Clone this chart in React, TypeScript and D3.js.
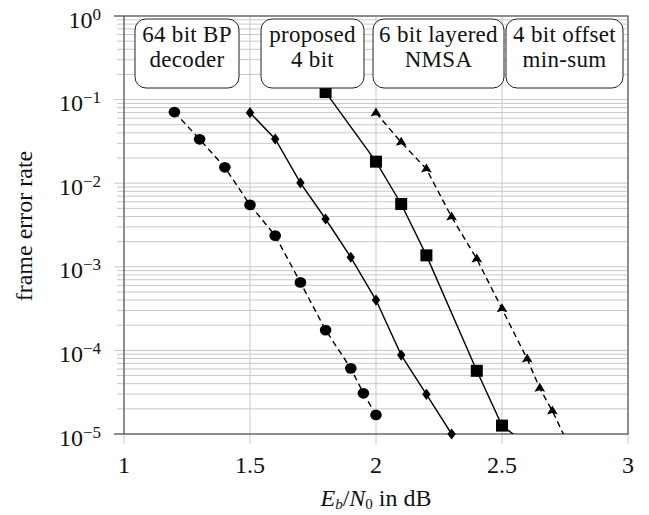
import React from 'react';
import * as d3 from 'd3';

// Eb/N0 (dB) and frame error rate for each decoder
const bpX = [1.2, 1.3, 1.4, 1.5, 1.6, 1.7, 1.8, 1.9, 1.95, 2.0];
const bpY = [0.071, 0.0335, 0.0155, 0.0055, 0.00236, 0.00065, 0.000175, 0.000061, 0.0000307, 0.0000169];

const propX = [1.5, 1.6, 1.7, 1.8, 1.9, 2.0, 2.1, 2.2, 2.3];
const propY = [0.0697, 0.0338, 0.0101, 0.00373, 0.0013, 0.0004, 0.000088, 0.0000298, 0.00001];

const nmsaX = [1.8, 2.0, 2.1, 2.2, 2.4, 2.5, 2.6];
const nmsaY = [0.123, 0.0181, 0.00564, 0.00137, 0.000057, 0.0000126, 0.0000074];

const omsX = [2.0, 2.1, 2.2, 2.3, 2.4, 2.5, 2.6, 2.65, 2.7, 2.75];
const omsY = [0.0693, 0.0308, 0.0148, 0.00394, 0.00124, 0.000314, 0.000079, 0.0000352, 0.0000188, 0.0000091];

const xTicks = [1, 1.5, 2, 2.5, 3];
const xTickLabels = ['1', '1.5', '2', '2.5', '3'];
const yDecades = [0, -1, -2, -3, -4, -5];

const legendLines = [
  ['64 bit BP', 'decoder'],
  ['proposed', '4 bit'],
  ['6 bit layered', 'NMSA'],
  ['4 bit offset', 'min-sum'],
];

const W = 649;
const H = 515;
const left = 124;
const right = 628;
const top = 16;
const bottom = 434;
const font = 'Liberation Serif, serif';

export default function App() {
  const x = d3.scaleLinear().domain([1, 3]).range([left, right]);
  const y = d3.scaleLog().domain([1e-5, 1]).range([bottom, top]);

  const zip = (xs: number[], ys: number[]) => xs.map((v, i) => [v, ys[i]] as [number, number]);
  const line = d3.line<[number, number]>().x(d => x(d[0])).y(d => y(d[1]));

  const bp = zip(bpX, bpY);
  const prop = zip(propX, propY);
  const nmsa = zip(nmsaX, nmsaY);
  const oms = zip(omsX, omsY);
  const inside = (d: [number, number]) => d[1] >= 1e-5 * 0.99;

  const minor: number[] = [];
  for (let e = -5; e < 0; e++) {
    for (let m = 2; m <= 9; m++) minor.push(m * Math.pow(10, e));
  }

  // box layout for the series names
  const boxes = [
    { x0: 135, x1: 239 },
    { x0: 261, x1: 364 },
    { x0: 373, x1: 504 },
    { x0: 506, x1: 623 },
  ];

  const grid = '#c8c8c8';
  const axis = '#555';

  return (
    <svg width={W} height={H} style={{ display: 'block', position: 'absolute', left: 0, top: 0 }}>
      <defs>
        <clipPath id="plot">
          <rect x={left} y={top} width={right - left} height={bottom - top} />
        </clipPath>
      </defs>
      <rect width={W} height={H} fill="#fff" />

      {/* grid */}
      {minor.map((v, i) => (
        <line key={'m' + i} x1={left - 7} x2={right} y1={y(v)} y2={y(v)} stroke={grid} strokeWidth={1} />
      ))}
      {yDecades.map(e => (
        <line key={'d' + e} x1={left - 10} x2={right} y1={y(Math.pow(10, e))} y2={y(Math.pow(10, e))} stroke={grid} strokeWidth={1} />
      ))}
      {xTicks.map(t => (
        <line key={'v' + t} x1={x(t)} x2={x(t)} y1={top} y2={bottom + 10} stroke={grid} strokeWidth={1} />
      ))}

      {/* frame */}
      <rect x={left} y={top} width={right - left} height={bottom - top} fill="none" stroke={axis} strokeWidth={1.2} />
      <line x1={left - 10} x2={left} y1={top} y2={top} stroke={axis} strokeWidth={1.2} />
      <line x1={left - 10} x2={left} y1={bottom} y2={bottom} stroke={axis} strokeWidth={1.2} />

      {/* series */}
      <g clipPath="url(#plot)" fill="none" stroke="#000" strokeWidth={1.4}>
        <path d={line(bp) || ''} strokeDasharray="6,4" />
        <path d={line(prop) || ''} />
        <path d={line(nmsa) || ''} />
        <path d={line(oms) || ''} strokeDasharray="6,4" />
      </g>
      <g fill="#000">
        {bp.map((d, i) => (
          <ellipse key={'c' + i} cx={x(d[0])} cy={y(d[1])} rx={5.8} ry={5.4} />
        ))}
        {prop.map((d, i) => (
          <path key={'p' + i} transform={`translate(${x(d[0])},${y(d[1])})`} d="M0,-5.6L4.2,0L0,5.6L-4.2,0Z" />
        ))}
        {nmsa.filter(inside).map((d, i) => (
          <rect key={'s' + i} x={x(d[0]) - 6} y={y(d[1]) - 6} width={12} height={12} />
        ))}
        {oms.filter(inside).map((d, i) => (
          <path key={'t' + i} transform={`translate(${x(d[0])},${y(d[1])})`} d="M0,-5.5L5.4,3.5L0,2L-5.4,3.5Z" />
        ))}
      </g>

      {/* legend boxes */}
      {boxes.map((b, i) => (
        <g key={'b' + i}>
          <rect x={b.x0} y={19} width={b.x1 - b.x0} height={69} rx={11} ry={11} fill="#fff" stroke="#222" strokeWidth={1} />
          <text x={(b.x0 + b.x1) / 2} y={42} textAnchor="middle" fontFamily={font} fontSize={23} letterSpacing={0.3} fill="#111">
            {legendLines[i][0]}
          </text>
          <text x={(b.x0 + b.x1) / 2} y={67} textAnchor="middle" fontFamily={font} fontSize={23} letterSpacing={0.3} fill="#111">
            {legendLines[i][1]}
          </text>
        </g>
      ))}

      {/* tick labels */}
      {xTicks.map((t, i) => (
        <text key={'xl' + t} x={x(t)} y={473} textAnchor="middle" fontFamily={font} fontSize={24} fill="#111">
          {xTickLabels[i]}
        </text>
      ))}
      {yDecades.map(e => (
        <text key={'yl' + e} x={101} y={y(Math.pow(10, e)) + 11.5} textAnchor="end" fontFamily={font} fontSize={24} fill="#111">
          10
          <tspan fontSize={17} dy={-8}>{e === 0 ? '0' : '\u2212' + -e}</tspan>
        </text>
      ))}

      {/* axis titles */}
      <text transform="translate(32,226) rotate(-90)" textAnchor="middle" fontFamily={font} fontSize={24} fill="#111">
        frame error rate
      </text>
      <text x={376} y={506} textAnchor="middle" fontFamily={font} fontSize={24} fill="#111">
        <tspan fontStyle="italic">E</tspan>
        <tspan fontStyle="italic" fontSize={15} dy={3}>b</tspan>
        <tspan dy={-3}>/</tspan>
        <tspan fontStyle="italic">N</tspan>
        <tspan fontSize={15} dy={3}>0</tspan>
        <tspan dy={-3}> in dB</tspan>
      </text>
    </svg>
  );
}
